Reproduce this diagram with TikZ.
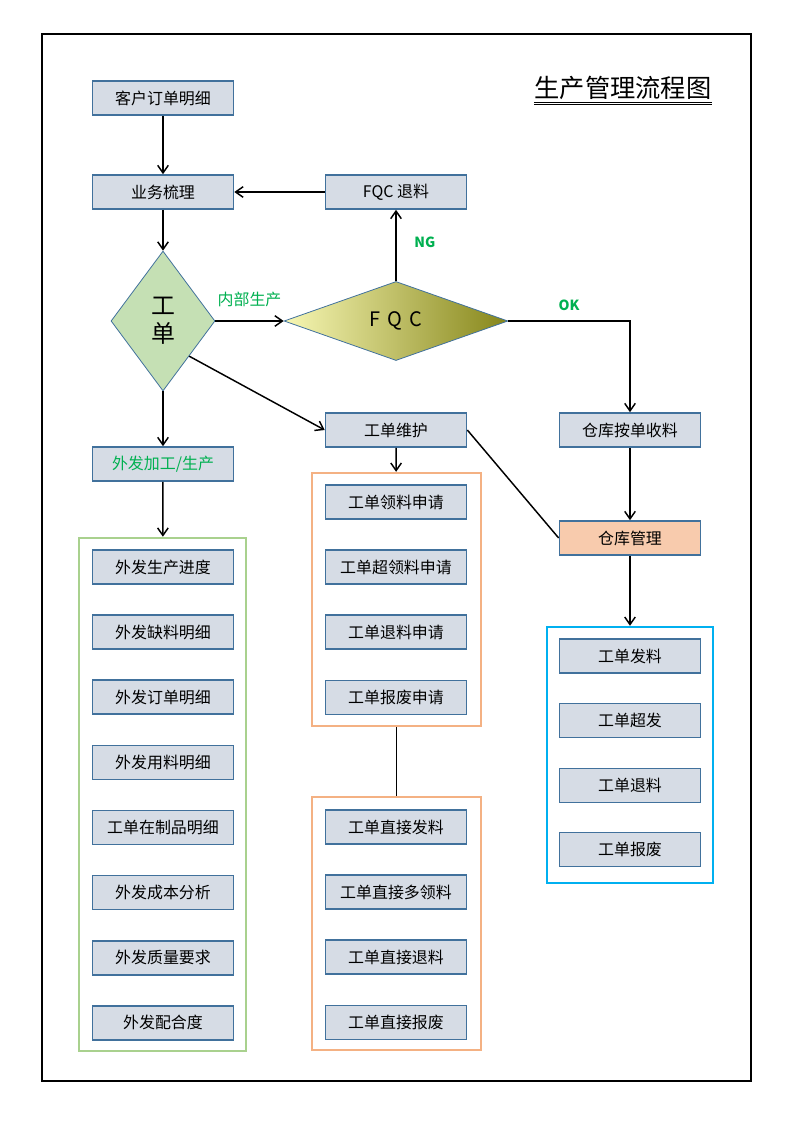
\documentclass[tikz,border=0pt]{standalone}
\usepackage{fontspec}
\setmainfont{Noto Sans CJK SC}
\usetikzlibrary{shapes.geometric, arrows.meta, positioning}
\definecolor{boxfill}{HTML}{D6DCE5}
\definecolor{boxline}{HTML}{41719C}
\definecolor{tagcolor}{HTML}{00B050}
\definecolor{wofill}{HTML}{C5E0B4}
\definecolor{whfill}{HTML}{F8CBAD}
\definecolor{grpgreen}{HTML}{A9D18E}
\definecolor{grporange}{HTML}{F4B183}
\definecolor{grpblue}{HTML}{00B0F0}
\definecolor{fqclight}{HTML}{F7F7B4}
\definecolor{fqcdark}{HTML}{86861A}

\begin{document}
\begin{tikzpicture}[
			x=0.02645cm, y=-0.02645cm,
			node distance=0.78cm and 1.5cm,
			process/.style={rectangle, draw=boxline, fill=boxfill, line width=1.2pt, minimum width=3.73cm, minimum height=0.9cm, text centered, font=\fontsize{12}{14}\selectfont},
			arrow/.style={-{Straight Barb[length=2mm, width=2.8mm]}, line width=1.1pt},
			group/.style={rectangle, line width=1.8pt, inner sep=0pt},
			tag/.style={text=tagcolor, font=\fontsize{10.5}{12}\selectfont},
			]
			
			\useasboundingbox (0,0) rectangle (794,1123);
			\draw[line width=0.8pt] (42,34) rectangle (751,1081);
			
			% Title
			\node (title) [inner sep=0pt, font=\fontsize{19}{21}\selectfont] at (623,88) {生产管理流程图};
			\draw[line width=0.7pt] ([yshift=-1.5pt]title.south west) -- ([yshift=-1.5pt]title.south east);
			\draw[line width=0.7pt] ([yshift=-3.7pt]title.south west) -- ([yshift=-3.7pt]title.south east);
			
			% Nodes
			\node (order) [process] at (163,98) {客户订单明细};
			\node (biz) [process] at (163,192) {业务梳理};
			\node (fqcret) [process] at (396,192) {FQC 退料};
			\node (wo) [diamond, draw=boxline, fill=wofill, line width=0.6pt, inner sep=0pt, minimum width=2.75cm, minimum height=3.7cm, align=center, font=\fontsize{18}{21}\selectfont] at (163,321) {工\\单};
			\node (fqc) [diamond, draw=boxline, left color=fqclight, right color=fqcdark, line width=0.6pt, inner sep=0pt, minimum width=5.92cm, minimum height=2.09cm, font=\fontsize{15}{18}\selectfont] at (396,321) {F\hspace{0.35em}Q\hspace{0.35em}C};
			\node (outsrc) [process, text=tagcolor] at (163,464) {外发加工/生产};
			\node (womaint) [process] at (396,430) {工单维护};
			\node (whrecv) [process] at (630,430) {仓库按单收料};
			\node (whmgr) [process, fill=whfill] at (630,538) {仓库管理};
			
			% Groups
			\node (grpout) [group, draw=grpgreen, minimum width=4.42cm, minimum height=13.57cm] at (162.5,794.5) {};
			\node (grpreq) [group, draw=grporange, minimum width=4.47cm, minimum height=6.69cm] at (396.5,599.5) {};
			\node (grpdir) [group, draw=grporange, minimum width=4.47cm, minimum height=6.69cm] at (396.5,923.5) {};
			\node (grpwh) [group, draw=grpblue, minimum width=4.39cm, minimum height=6.77cm] at (630,755) {};
			
			\node (out1) [process] at (163,567) {外发生产进度};
			\node (out2) [process, below=of out1] {外发缺料明细};
			\node (out3) [process, below=of out2] {外发订单明细};
			\node (out4) [process, below=of out3] {外发用料明细};
			\node (out5) [process, below=of out4] {工单在制品明细};
			\node (out6) [process, below=of out5] {外发成本分析};
			\node (out7) [process, below=of out6] {外发质量要求};
			\node (out8) [process, below=of out7] {外发配合度};
			
			\node (req1) [process] at (396,502) {工单领料申请};
			\node (req2) [process, below=of req1] {工单超领料申请};
			\node (req3) [process, below=of req2] {工单退料申请};
			\node (req4) [process, below=of req3] {工单报废申请};
			
			\node (dir1) [process] at (396,827) {工单直接发料};
			\node (dir2) [process, below=of dir1] {工单直接多领料};
			\node (dir3) [process, below=of dir2] {工单直接退料};
			\node (dir4) [process, below=of dir3] {工单直接报废};
			
			\node (wh1) [process, line width=0.8pt] at (630,656) {工单发料};
			\node (wh2) [process, line width=0.8pt, below=of wh1] {工单超发};
			\node (wh3) [process, line width=0.8pt, below=of wh2] {工单退料};
			\node (wh4) [process, line width=0.8pt, below=of wh3] {工单报废};
			
			% Arrows
			\draw[arrow] (order) -- (biz);
			\draw[arrow] (fqcret) -- (biz);
			\draw[arrow] (biz) -- (wo);
			\draw[arrow] (wo) -- node[tag, above, yshift=7pt, font=\fontsize{12}{14}\selectfont] {内部生产} (fqc);
			\draw[arrow] (fqc) -- node[tag, right, xshift=10pt, pos=0.55] {\textbf{NG}} (fqcret);
			\draw[arrow] (fqc) -| node[tag, above, pos=0.25, yshift=4pt] {\textbf{OK}} (whrecv);
			\draw[arrow] (wo.south east) -- (womaint.west);
			\draw[arrow] (wo) -- (outsrc);
			\draw[arrow] (outsrc) -- (grpout);
			\draw[arrow] (womaint) -- (grpreq);
			\draw[line width=1.1pt] (womaint.east) -- (whmgr.west);
			\draw[arrow] (whrecv) -- (whmgr);
			\draw[arrow] (whmgr) -- (grpwh);
			\draw[line width=1.1pt] (grpreq) -- (grpdir);
		\end{tikzpicture}
\end{document}
